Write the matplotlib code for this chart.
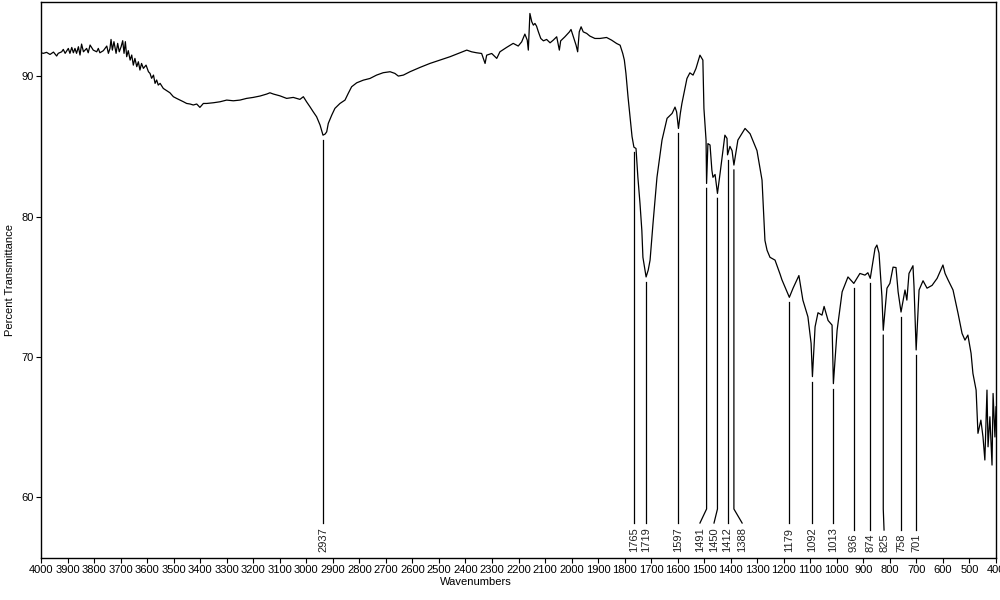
import matplotlib
matplotlib.use("Agg")
import matplotlib.pyplot as plt
import numpy as np

plt.rcParams["font.family"] = ["Liberation Sans", "DejaVu Sans"]

# спектр: волновые числа (см-1) и пропускание (%)
wavenumber = [
    4000, 3991, 3979, 3966, 3953, 3941, 3935, 3922, 3916, 3909, 3897, 3891, 3884, 3878,
    3872, 3866, 3859, 3853, 3847, 3840, 3828, 3822, 3815, 3803, 3790, 3784, 3778, 3765,
    3752, 3746, 3740, 3736, 3731, 3725, 3717, 3711, 3705, 3698, 3692, 3687, 3682, 3677,
    3671, 3664, 3658, 3652, 3646, 3639, 3633, 3627, 3621, 3614, 3604, 3595, 3589, 3583,
    3576, 3570, 3564, 3558, 3551, 3539, 3526, 3514, 3501, 3489, 3476, 3463, 3451, 3438,
    3426, 3413, 3401, 3388, 3375, 3350, 3325, 3300, 3275, 3250, 3225, 3200, 3174, 3149,
    3137, 3124, 3099, 3074, 3049, 3024, 3011, 2999, 2986, 2974, 2961, 2948, 2937, 2929,
    2923, 2917, 2904, 2892, 2873, 2854, 2842, 2829, 2810, 2785, 2760, 2735, 2710, 2684,
    2666, 2653, 2634, 2609, 2571, 2534, 2496, 2458, 2421, 2395, 2377, 2358, 2339, 2326,
    2320, 2301, 2282, 2270, 2245, 2220, 2201, 2188, 2176, 2167, 2163, 2157, 2150, 2144,
    2138, 2132, 2125, 2116, 2106, 2094, 2081, 2069, 2056, 2046, 2041, 2025, 2008, 2002,
    1993, 1983, 1977, 1971, 1964, 1956, 1943, 1931, 1912, 1893, 1868, 1849, 1830, 1817,
    1807, 1801, 1795, 1787, 1772, 1765, 1757, 1750, 1742, 1735, 1731, 1719, 1711, 1704,
    1693, 1678, 1659, 1640, 1621, 1610, 1604, 1597, 1590, 1584, 1565, 1554, 1542, 1531,
    1516, 1505, 1501, 1493, 1491, 1486, 1478, 1471, 1467, 1459, 1450, 1440, 1422, 1414,
    1412, 1403, 1395, 1388, 1373, 1346, 1327, 1301, 1282, 1271, 1263, 1252, 1233, 1214,
    1207, 1179, 1165, 1143, 1128, 1109, 1097, 1092, 1082, 1071, 1056, 1048, 1033, 1018,
    1013, 999, 980, 958, 936, 913, 894, 883, 874, 856, 849, 841, 830, 825,
    811, 800, 788, 777, 769, 758, 743, 736, 728, 713, 709, 701, 690, 675,
    660, 641, 622, 611, 600, 592, 581, 562, 543, 528, 517, 506, 494, 487,
    475, 468, 457, 449, 442, 434, 430, 423, 415, 411, 404, 400,
]
transmittance = [
    91.67, 91.63, 91.70, 91.55, 91.72, 91.44, 91.63, 91.74, 91.91, 91.63, 91.98, 91.63, 92.05, 91.67,
    91.98, 91.63, 92.10, 91.51, 92.29, 91.74, 91.98, 91.67, 92.22, 91.86, 91.74, 91.98, 91.67, 91.82,
    92.15, 91.63, 91.98, 92.62, 91.86, 92.46, 91.63, 92.34, 91.74, 92.10, 92.53, 91.63, 92.46, 91.39,
    91.82, 91.15, 91.51, 90.79, 91.27, 90.68, 91.03, 90.44, 90.91, 90.56, 90.79, 90.32, 90.20, 89.85,
    90.08, 89.49, 89.73, 89.37, 89.49, 89.13, 88.97, 88.82, 88.54, 88.42, 88.30, 88.18, 88.06, 88.02,
    87.95, 88.02, 87.78, 88.06, 88.06, 88.11, 88.18, 88.30, 88.25, 88.30, 88.42, 88.49, 88.59, 88.73,
    88.82, 88.73, 88.60, 88.42, 88.49, 88.35, 88.54, 88.18, 87.82, 87.47, 87.11, 86.52, 85.80, 85.88,
    86.04, 86.64, 87.23, 87.71, 88.06, 88.30, 88.77, 89.25, 89.53, 89.72, 89.84, 90.08, 90.25, 90.32,
    90.20, 90.01, 90.08, 90.32, 90.63, 90.91, 91.15, 91.39, 91.67, 91.86, 91.74, 91.67, 91.62, 90.91,
    91.50, 91.62, 91.27, 91.74, 92.05, 92.34, 92.15, 92.45, 93.00, 92.57, 91.86, 94.47, 93.88, 93.64,
    93.76, 93.57, 93.16, 92.69, 92.52, 92.62, 92.38, 92.57, 92.81, 91.86, 92.52, 92.81, 93.16, 93.33,
    92.81, 92.21, 91.74, 93.16, 93.52, 93.16, 93.05, 92.86, 92.69, 92.69, 92.76, 92.57, 92.33, 92.21,
    91.62, 91.15, 90.20, 88.50, 85.70, 84.95, 84.85, 82.80, 80.93, 79.00, 77.10, 75.70, 76.19, 76.90,
    79.50, 82.80, 85.45, 87.00, 87.35, 87.80, 87.46, 86.28, 87.35, 88.06, 89.84, 90.24, 90.08, 90.55,
    91.50, 91.15, 87.70, 85.45, 82.36, 85.20, 85.10, 83.30, 82.80, 83.00, 81.65, 83.10, 85.80, 85.57,
    84.40, 85.00, 84.70, 83.67, 85.45, 86.28, 85.90, 84.70, 82.60, 78.30, 77.60, 77.10, 76.90, 75.90,
    75.50, 74.25, 74.90, 75.80, 74.05, 72.86, 70.97, 68.60, 72.15, 73.15, 72.98, 73.60, 72.60, 72.27,
    68.10, 71.90, 74.64, 75.70, 75.24, 75.95, 75.83, 76.00, 75.60, 77.73, 77.97, 77.40, 74.30, 71.90,
    74.90, 75.24, 76.40, 76.37, 74.64, 73.20, 74.77, 74.05, 75.95, 76.50, 75.00, 70.50, 74.77, 75.43,
    74.90, 75.10, 75.60, 76.07, 76.55, 75.95, 75.50, 74.77, 73.10, 71.68, 71.20, 71.56, 70.26, 68.83,
    67.64, 64.56, 65.50, 64.30, 62.66, 67.64, 63.60, 65.74, 62.30, 67.40, 64.30, 66.45,
]

# отмеченные пики и где стоит подпись (если сдвинута)
peaks = [2937, 1765, 1719, 1597, 1491, 1450, 1412, 1388, 1179, 1092, 1013, 936, 874, 825, 758, 701]
label_pos = [2937, 1765, 1719, 1597, 1516, 1463, 1412, 1357, 1179, 1092, 1013, 936, 874, 822, 758, 701]

fig = plt.figure(figsize=(10, 6), dpi=100)
ax = fig.add_axes([0.041, 0.0705, 0.955, 0.926])

ax.plot(wavenumber, transmittance, color="black", lw=0.9)

wn_asc = np.array(wavenumber[::-1])
t_asc = np.array(transmittance[::-1])
text_y = 56.1
kink_y = 59.17
for wn, lx in zip(peaks, label_pos):
    lab = str(wn)
    top = np.interp(wn, wn_asc, t_asc) - 0.35
    end = 58.17 if len(lab) == 4 else 57.67
    if lx != wn:
        ax.plot([wn, wn, lx], [top, kink_y, end], color="black", lw=0.9)
    else:
        ax.plot([wn, wn], [top, end], color="black", lw=0.9)
    ax.text(lx, text_y, lab, rotation=90, ha="center", va="bottom", fontsize=8, color="#222222")

ax.set_xlim(4000, 400)
ax.set_ylim(55.70, 95.28)
ax.set_xticks(np.arange(4000, 399, -100))
ax.set_yticks([60, 70, 80, 90])
ax.tick_params(axis="both", labelsize=8, length=3.5, width=0.8, pad=1.5, colors="black")
for s in ax.spines.values():
    s.set_linewidth(1.0)

fig.text(0.476, 0.030, "Wavenumbers", ha="center", va="center", fontsize=8)
fig.text(0.010, 0.533, "Percent Transmittance", ha="center", va="center", rotation=90, fontsize=8)

fig.savefig("out.png", dpi=100)
